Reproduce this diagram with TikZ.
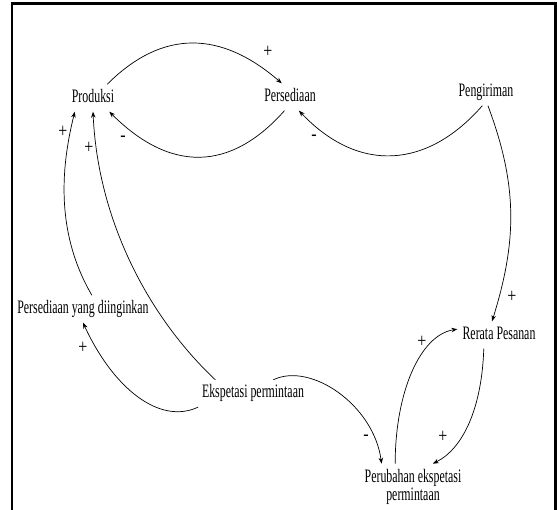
\documentclass[tikz,border=0pt]{standalone}
\usepackage{fontspec}
\setmainfont{Liberation Serif}
\newfontfamily\narrowfont[FakeStretch=0.625]{Liberation Serif}
\newfontfamily\signfont[FakeStretch=0.8]{Liberation Serif}
\usetikzlibrary{arrows.meta}
\tikzset{
  varbox/.style={inner sep=5pt, text height=13pt, text depth=4pt, font=\narrowfont\fontsize{19}{18}\selectfont},
  multivarbox/.style={inner sep=5pt, align=center, font=\narrowfont\fontsize{19}{18}\selectfont},
  signlabel/.style={inner sep=0pt, font=\signfont\fontsize{20}{20}\selectfont},
  link/.style={line width=0.7pt, ->, >={Stealth[length=6pt,width=4.5pt]}},
  framebox/.style={line width=2.5pt}
}

\begin{document}
\begin{tikzpicture}[x=1pt,y=-1pt]
\useasboundingbox (0,0) rectangle (557,510);
% Frame
\draw[framebox] (12,510) -- (12,3.5) -- (555.5,3.5) -- (555.5,510);

% Variables
\node[varbox] (prod) at (93,98) {Produksi};
\node[varbox] (pers) at (290,97) {Persediaan};
\node[varbox] (peng) at (486,92) {Pengiriman};
\node[varbox] (psd) at (83,309) {Persediaan yang diinginkan};
\node[varbox] (rerata) at (499,335) {Rerata Pesanan};
\node[varbox] (eksp) at (253,393.5) {Ekspetasi permintaan};
\node[multivarbox] (perub) at (413,486.5) {Perubahan ekspetasi\\permintaan};

% Links
\draw[link] (prod.44) .. controls +(56,-56) and +(-60,-52) .. (pers.121);
\draw[link] (pers.248) .. controls +(-55,62) and +(60,60) .. (prod.320);
\draw[link] (peng.255) .. controls +(-55,63) and +(60,63) .. (pers.303);
\draw[link] (peng.278) .. controls +(30,80) and +(25,-80) .. (rerata.117);
\draw[link] (psd.57) .. controls +(-35,-60) and +(-15,60) .. (prod.217);
\draw[link] (eksp.160) .. controls +(-66,-62) and +(5,110) .. (prod.south);
\draw[link] (eksp.194) .. controls +(-39,18) and +(30,65) .. (psd.south);
\draw[link] (eksp.34) .. controls +(37,-18) and +(-8,-59) .. (perub.144);
\draw[link] (rerata.222) .. controls +(-2,60) and +(30,-15) .. (perub.49);
\draw[link] (perub.128) .. controls +(0,-70) and +(-38,6) .. (rerata.172);

% Signs
\node[signlabel] (s1) at (268,52) {+};
\node[signlabel] (s2) at (123,139) {-};
\node[signlabel] (s3) at (314,138) {-};
\node[signlabel] (s4) at (512,297) {+};
\node[signlabel] (s5) at (63,132) {+};
\node[signlabel] (s6) at (89,148) {+};
\node[signlabel] (s7) at (83,348) {+};
\node[signlabel] (s8) at (366,438) {-};
\node[signlabel] (s9) at (443,437) {+};
\node[signlabel] (s10) at (422,342) {+};
\end{tikzpicture}
\end{document}
